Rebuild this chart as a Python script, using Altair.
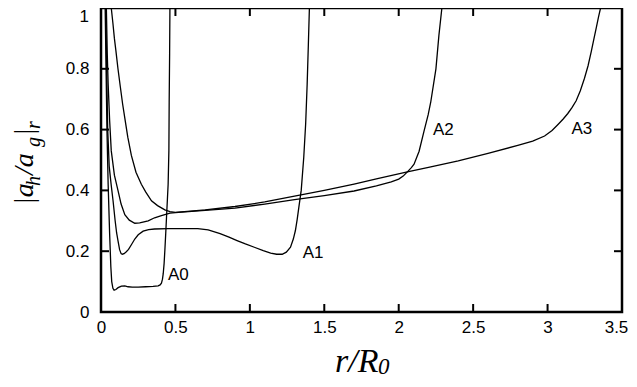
import altair as alt
import pandas as pd

# ---- data ----
r_A0 = [0.028, 0.034, 0.040, 0.048, 0.058, 0.066, 0.072, 0.080, 0.088, 0.100, 0.115, 0.137, 0.160, 0.182,
        0.210, 0.250, 0.300, 0.350, 0.384, 0.397, 0.406, 0.413, 0.418, 0.424, 0.429, 0.435, 0.440, 0.446,
        0.451, 0.456, 0.458, 0.461, 0.463]
y_A0 = [1.0, 0.80, 0.60, 0.42, 0.257, 0.15, 0.10, 0.078, 0.072, 0.074, 0.080, 0.085, 0.086, 0.083,
        0.082, 0.082, 0.083, 0.084, 0.086, 0.089, 0.095, 0.108, 0.126, 0.16, 0.203, 0.26, 0.311, 0.37,
        0.42, 0.53, 0.69, 0.85, 1.0]

r_A1 = [0.032, 0.038, 0.045, 0.055, 0.068, 0.081, 0.095, 0.105, 0.114, 0.125, 0.135, 0.143, 0.155, 0.170,
        0.185, 0.205, 0.227, 0.250, 0.283, 0.320, 0.360, 0.450, 0.550, 0.650, 0.720, 0.800, 0.860, 0.914,
        0.970, 1.030, 1.090, 1.140, 1.180, 1.217, 1.245, 1.273, 1.292, 1.306, 1.318, 1.329, 1.345, 1.362,
        1.375, 1.385, 1.393, 1.400]
y_A1 = [1.0, 0.80, 0.60, 0.48, 0.42, 0.366, 0.30, 0.26, 0.235, 0.205, 0.192, 0.190, 0.192, 0.198,
        0.206, 0.222, 0.240, 0.254, 0.266, 0.271, 0.273, 0.274, 0.274, 0.274, 0.270, 0.258, 0.246, 0.235,
        0.224, 0.213, 0.202, 0.194, 0.190, 0.190, 0.197, 0.213, 0.240, 0.268, 0.305, 0.344, 0.400, 0.508,
        0.62, 0.75, 0.88, 1.0]

r_A2 = [0.036, 0.042, 0.048, 0.058, 0.069, 0.090, 0.114, 0.135, 0.160, 0.190, 0.227, 0.260, 0.317, 0.360,
        0.406, 0.463, 0.520, 0.700, 0.900, 1.100, 1.300, 1.500, 1.700, 1.850, 1.950, 2.000, 2.030, 2.058,
        2.085, 2.103, 2.137, 2.170, 2.198, 2.215, 2.250, 2.270, 2.290]
y_A2 = [1.0, 0.85, 0.75, 0.63, 0.53, 0.45, 0.40, 0.355, 0.32, 0.302, 0.292, 0.293, 0.300, 0.310,
        0.317, 0.325, 0.328, 0.334, 0.342, 0.355, 0.370, 0.383, 0.398, 0.415, 0.428, 0.437, 0.447, 0.461,
        0.475, 0.486, 0.529, 0.595, 0.649, 0.69, 0.80, 0.91, 1.0]

r_A3 = [0.069, 0.080, 0.090, 0.100, 0.114, 0.130, 0.145, 0.160, 0.180, 0.204, 0.235, 0.271, 0.300, 0.339,
        0.380, 0.429, 0.463, 0.500, 0.700, 0.900, 1.100, 1.300, 1.500, 1.700, 1.850, 2.058, 2.200, 2.400,
        2.600, 2.800, 2.900, 2.980, 3.030, 3.070, 3.105, 3.136, 3.165, 3.192, 3.220, 3.248, 3.272, 3.293,
        3.312, 3.327, 3.342, 3.356]
y_A3 = [1.0, 0.95, 0.90, 0.86, 0.80, 0.74, 0.685, 0.638, 0.575, 0.515, 0.46, 0.42, 0.395, 0.366,
        0.35, 0.336, 0.330, 0.328, 0.336, 0.347, 0.362, 0.381, 0.400, 0.421, 0.438, 0.461, 0.476, 0.497,
        0.522, 0.548, 0.562, 0.579, 0.597, 0.617, 0.635, 0.653, 0.673, 0.695, 0.728, 0.769, 0.81, 0.856,
        0.90, 0.935, 0.97, 1.0]

label_text = ["A0", "A1", "A2", "A3"]
label_r = [0.45, 1.355, 2.23, 3.16]
label_y = [0.122, 0.194, 0.599, 0.602]

x_ticks = [0, 0.5, 1, 1.5, 2, 2.5, 3, 3.5]
y_ticks = [0, 0.2, 0.4, 0.6, 0.8]
y_top_label = "1"
x_minor = [0.5, 1, 1.5, 2, 2.5, 3]
y_minor = [0.2, 0.4, 0.6, 0.8]

# ---- build tables ----
rows = []
for name, rs, ys in [("A0", r_A0, y_A0), ("A1", r_A1, y_A1), ("A2", r_A2, y_A2), ("A3", r_A3, y_A3)]:
    for i, (rv, yv) in enumerate(zip(rs, ys)):
        rows.append({"curve": name, "r": rv, "y": yv, "idx": i})
df = pd.DataFrame(rows)
lab = pd.DataFrame({"text": label_text, "r": label_r, "y": label_y})
xt = pd.DataFrame({"r": x_minor})
yt = pd.DataFrame({"y": y_minor})
one = pd.DataFrame({"a": [0]})

W, H = 521, 304
LF = "Liberation Sans"
SF = "Liberation Serif"

xs = alt.Scale(domain=[0, 3.5], nice=False, zero=False)
ys_ = alt.Scale(domain=[0, 1], nice=False, zero=False)
XAX = alt.Axis(values=x_ticks, format="~g", title=None, ticks=False, tickSize=0, domain=False,
               grid=False, labelFont=LF, labelFontSize=17, labelColor="black", labelPadding=7,
               labelFlush=False, labelOverlap=False,
               labelOffset={"expr": "datum.value >= 3.5 ? -6 : 0"})
YAX = alt.Axis(values=y_ticks, format="~g", title=None, ticks=False, tickSize=0, domain=False,
               grid=False, labelFont=LF, labelFontSize=17, labelColor="black", labelPadding=12,
               labelFlush=False, labelOverlap=False)
XE = alt.X("r:Q", scale=xs, axis=XAX)
YE = alt.Y("y:Q", scale=ys_, axis=YAX)

lines = alt.Chart(df).mark_line(color="black", strokeWidth=1.3, clip=True).encode(
    x=XE, y=YE, detail="curve:N", order="idx:Q")

tb = alt.Chart(xt).mark_rule(color="black", strokeWidth=2).encode(
    x=XE, y=alt.value(H), y2=alt.value(H - 8))
tt = alt.Chart(xt).mark_rule(color="black", strokeWidth=2).encode(
    x=XE, y=alt.value(0), y2=alt.value(8))
tl = alt.Chart(yt).mark_rule(color="black", strokeWidth=2).encode(
    y=YE, x=alt.value(0), x2=alt.value(8))
tr = alt.Chart(yt).mark_rule(color="black", strokeWidth=2).encode(
    y=YE, x=alt.value(W), x2=alt.value(W - 8))

labels = alt.Chart(lab).mark_text(font=LF, fontSize=17, align="left", baseline="middle",
                                  color="black").encode(x=XE, y=YE, text="text:N")

# top "1" tick label kept inside the page
top1 = alt.Chart(one).mark_text(font=LF, fontSize=17, align="right", baseline="middle",
                                color="black").encode(
    x=alt.value(-12), y=alt.value(9), text=alt.value(y_top_label))


def piece(txt, x, y, size, angle=0):
    return alt.Chart(one).mark_text(font=SF, fontStyle="italic", fontSize=size, align="left",
                                    baseline="alphabetic", color="black", angle=angle).encode(
        x=alt.value(x), y=alt.value(y), text=alt.value(txt))


# x title r/R_0
xt1 = piece("r/R", 234, 364, 34)
xt2 = piece("0", 277, 366, 23)
# y title |a_h/a_g|_r (rotated)
yp = [
    piece("|a", -68, 197, 28, 270),
    piece("h", -61, 178, 20, 270),
    piece("/a", -68, 167, 28, 270),
    piece("g", -61, 139, 20, 270),
    piece("|", -68, 128, 28, 270),
    piece("r", -61, 121, 20, 270),
]

chart = alt.layer(lines, tb, tt, tl, tr, labels, top1, xt1, xt2, *yp).properties(
    width=W, height=H,
    autosize=alt.AutoSizeParams(type="none"),
    padding={"left": 93, "top": 0, "right": 7, "bottom": 67},
    background="white",
).configure_view(stroke="black", strokeWidth=2.5)

chart.save("out.html", embed_options={"renderer": "svg", "actions": False})
